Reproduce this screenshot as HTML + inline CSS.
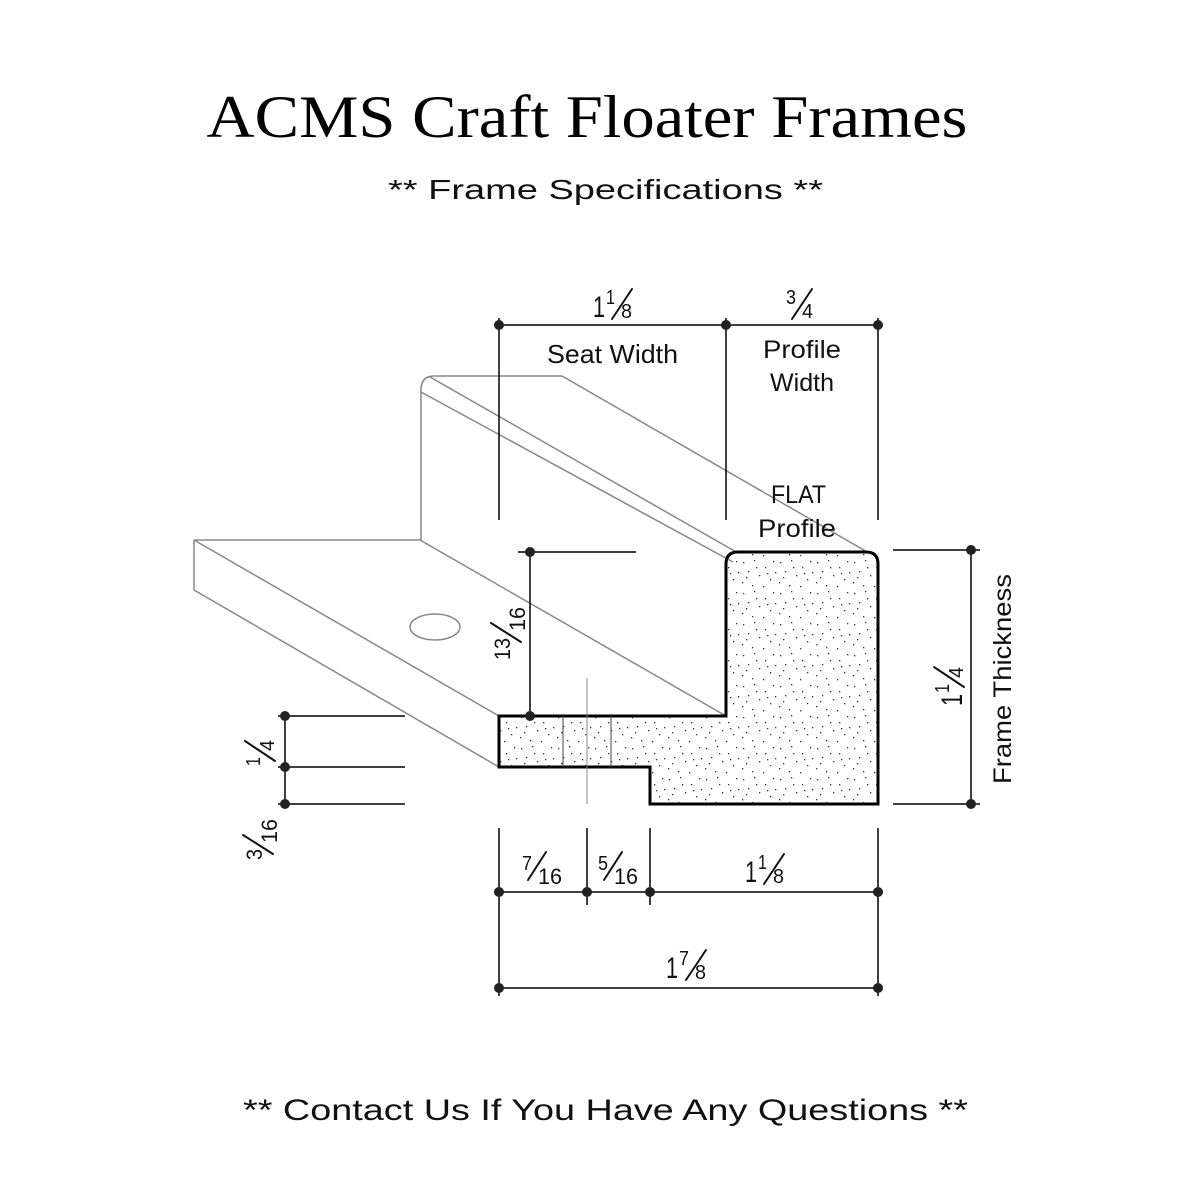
<!DOCTYPE html>
<html><head><meta charset="utf-8"><style>html,body{margin:0;padding:0;background:#fff}svg{display:block}</style></head><body>
<svg width="1195" height="1195" viewBox="0 0 1195 1195" xmlns="http://www.w3.org/2000/svg">
<defs>
<pattern id="st" width="37" height="31" patternUnits="userSpaceOnUse">
<g fill="#333">
<rect x="3" y="4" width="1.3" height="1.3"/><rect x="14" y="2" width="1.3" height="1.3"/><rect x="25" y="9" width="1.3" height="1.3"/><rect x="33" y="3" width="1.3" height="1.3"/>
<rect x="8" y="13" width="1.3" height="1.3"/><rect x="19" y="17" width="1.3" height="1.3"/><rect x="30" y="21" width="1.3" height="1.3"/><rect x="2" y="24" width="1.3" height="1.3"/>
<rect x="12" y="27" width="1.3" height="1.3"/><rect x="23" y="28" width="1.3" height="1.3"/><rect x="35" y="14" width="1.3" height="1.3"/><rect x="16" y="9" width="1.3" height="1.3"/>
<rect x="6" y="19" width="1.3" height="1.3"/><rect x="27" y="15" width="1.3" height="1.3"/>
</g></pattern>
</defs>
<text x="587" y="137" font-family="Liberation Serif, serif" font-size="60" text-anchor="middle" textLength="761" lengthAdjust="spacingAndGlyphs">ACMS Craft Floater Frames</text>
<g font-family="Liberation Sans, DejaVu Sans, sans-serif" fill="#111">
<text x="388" y="199" font-size="28" textLength="435" lengthAdjust="spacingAndGlyphs">** Frame Specifications **</text>
<text x="243" y="1120" font-size="30" textLength="725" lengthAdjust="spacingAndGlyphs">** Contact Us If You Have Any Questions **</text>
</g>

<g fill="none" stroke="#888" stroke-width="1.5">
<path d="M421,540 L421,390 Q421,376 434,376 L562,376 L869,553"/>
<line x1="421" y1="392" x2="733" y2="562"/>
<line x1="430" y1="377" x2="738" y2="553"/>
<path d="M194,540 L420,540 L726,716"/>
<line x1="194" y1="540" x2="499" y2="716"/>
<line x1="194" y1="540" x2="194" y2="590"/>
<line x1="194" y1="590" x2="499" y2="767"/>
<ellipse cx="435" cy="627" rx="25" ry="13"/>
</g>

<path d="M499,716 L726,716 L726,564 Q726,552 738,552 L866,552 Q878,552 878,564 L878,804 L650,804 L650,767 L499,767 Z" fill="url(#st)" stroke="#000" stroke-width="3"/>
<g stroke="#444" stroke-width="1" fill="none">
<line x1="563" y1="716" x2="563" y2="767"/>
<line x1="611" y1="716" x2="611" y2="767"/>
</g>
<line x1="587" y1="678" x2="587" y2="804" stroke="#888" stroke-width="1"/>

<g stroke="#000" stroke-width="1.5" fill="none">
<line x1="499" y1="318" x2="499" y2="520"/>
<line x1="726" y1="318" x2="726" y2="520"/>
<line x1="878" y1="318" x2="878" y2="520"/>
<line x1="499" y1="325" x2="878" y2="325"/>
<line x1="518" y1="552" x2="636" y2="552"/>
<line x1="530" y1="552" x2="530" y2="716"/>
<line x1="893" y1="550" x2="980" y2="550"/>
<line x1="893" y1="804" x2="980" y2="804"/>
<line x1="971" y1="550" x2="971" y2="804"/>
<line x1="278" y1="716" x2="405" y2="716"/>
<line x1="278" y1="767" x2="405" y2="767"/>
<line x1="278" y1="804" x2="405" y2="804"/>
<line x1="285" y1="716" x2="285" y2="804"/>
<line x1="499" y1="828" x2="499" y2="996"/>
<line x1="587" y1="828" x2="587" y2="905"/>
<line x1="650" y1="828" x2="650" y2="905"/>
<line x1="878" y1="828" x2="878" y2="996"/>
<line x1="499" y1="892" x2="878" y2="892"/>
<line x1="499" y1="988" x2="878" y2="988"/>
</g>
<g fill="#222">
<circle cx="499" cy="325" r="5"/><circle cx="726" cy="325" r="5"/><circle cx="878" cy="325" r="5"/>
<circle cx="530" cy="552" r="5"/><circle cx="530" cy="716" r="5"/>
<circle cx="971" cy="550" r="5"/><circle cx="971" cy="804" r="5"/>
<circle cx="285" cy="716" r="5"/><circle cx="285" cy="767" r="5"/><circle cx="285" cy="804" r="5"/>
<circle cx="499" cy="892" r="5"/><circle cx="587" cy="892" r="5"/><circle cx="650" cy="892" r="5"/><circle cx="878" cy="892" r="5"/>
<circle cx="499" cy="988" r="5"/><circle cx="878" cy="988" r="5"/>
</g>

<g font-family="Liberation Sans, DejaVu Sans, sans-serif" fill="#111">
<text x="547" y="363" font-size="26" textLength="131" lengthAdjust="spacingAndGlyphs">Seat Width</text>
<text x="763" y="358" font-size="25" textLength="78" lengthAdjust="spacingAndGlyphs">Profile</text>
<text x="770" y="391" font-size="25" textLength="64" lengthAdjust="spacingAndGlyphs">Width</text>
<text x="771" y="503" font-size="25" textLength="55" lengthAdjust="spacingAndGlyphs">FLAT</text>
<text x="758" y="537" font-size="25" textLength="78" lengthAdjust="spacingAndGlyphs">Profile</text>
<text transform="translate(1011,679) rotate(-90)" font-size="25" text-anchor="middle" textLength="210" lengthAdjust="spacingAndGlyphs">Frame Thickness</text>
</g>

<!-- fractions: local layout -->
<g font-family="Liberation Sans, DejaVu Sans, sans-serif" fill="#111" stroke-linecap="round">
<!-- 1 1/8 top -->
<g transform="translate(593,317)">
<text x="0" y="0" font-size="30" textLength="12" lengthAdjust="spacingAndGlyphs">1</text>
<text x="13" y="-13" font-size="20" textLength="9" lengthAdjust="spacingAndGlyphs">1</text>
<line x1="19" y1="2" x2="39" y2="-28" stroke="#111" stroke-width="2"/>
<text x="28" y="1" font-size="20" textLength="11" lengthAdjust="spacingAndGlyphs">8</text>
</g>
<!-- 3/4 -->
<g transform="translate(786,317)">
<text x="0" y="-13" font-size="20" textLength="10" lengthAdjust="spacingAndGlyphs">3</text>
<line x1="6" y1="2" x2="26" y2="-28" stroke="#111" stroke-width="2"/>
<text x="16" y="1" font-size="20" textLength="11" lengthAdjust="spacingAndGlyphs">4</text>
</g>
<!-- 7/16 -->
<g transform="translate(522,883)">
<text x="0" y="-13" font-size="20" textLength="10" lengthAdjust="spacingAndGlyphs">7</text>
<line x1="6" y1="-3" x2="24" y2="-31" stroke="#111" stroke-width="2"/>
<text x="16" y="1" font-size="22" textLength="24" lengthAdjust="spacingAndGlyphs">16</text>
</g>
<!-- 5/16 -->
<g transform="translate(598,883)">
<text x="0" y="-13" font-size="20" textLength="10" lengthAdjust="spacingAndGlyphs">5</text>
<line x1="6" y1="-3" x2="24" y2="-31" stroke="#111" stroke-width="2"/>
<text x="16" y="1" font-size="22" textLength="24" lengthAdjust="spacingAndGlyphs">16</text>
</g>
<!-- 1 1/8 bottom -->
<g transform="translate(745,882)">
<text x="0" y="0" font-size="30" textLength="12" lengthAdjust="spacingAndGlyphs">1</text>
<text x="13" y="-13" font-size="20" textLength="9" lengthAdjust="spacingAndGlyphs">1</text>
<line x1="19" y1="2" x2="39" y2="-28" stroke="#111" stroke-width="2"/>
<text x="28" y="1" font-size="20" textLength="11" lengthAdjust="spacingAndGlyphs">8</text>
</g>
<!-- 1 7/8 -->
<g transform="translate(666,978)">
<text x="0" y="0" font-size="30" textLength="12" lengthAdjust="spacingAndGlyphs">1</text>
<text x="13" y="-13" font-size="20" textLength="10" lengthAdjust="spacingAndGlyphs">7</text>
<line x1="20" y1="2" x2="40" y2="-28" stroke="#111" stroke-width="2"/>
<text x="29" y="1" font-size="20" textLength="11" lengthAdjust="spacingAndGlyphs">8</text>
</g>
<!-- 13/16 rotated -->
<g transform="translate(524,660) rotate(-90)">
<text x="0" y="-14" font-size="22" textLength="22" lengthAdjust="spacingAndGlyphs">13</text>
<line x1="18" y1="-3" x2="37" y2="-33" stroke="#111" stroke-width="2"/>
<text x="29" y="1" font-size="22" textLength="24" lengthAdjust="spacingAndGlyphs">16</text>
</g>
<!-- 1 1/4 rotated -->
<g transform="translate(962,706) rotate(-90)">
<text x="0" y="0" font-size="30" textLength="12" lengthAdjust="spacingAndGlyphs">1</text>
<text x="13" y="-13" font-size="20" textLength="9" lengthAdjust="spacingAndGlyphs">1</text>
<line x1="19" y1="2" x2="39" y2="-28" stroke="#111" stroke-width="2"/>
<text x="28" y="1" font-size="20" textLength="11" lengthAdjust="spacingAndGlyphs">4</text>
</g>
<!-- 1/4 left -->
<g transform="translate(273,766) rotate(-90)">
<text x="0" y="-13" font-size="20" textLength="9" lengthAdjust="spacingAndGlyphs">1</text>
<line x1="5" y1="2" x2="25" y2="-28" stroke="#111" stroke-width="2"/>
<text x="15" y="1" font-size="20" textLength="11" lengthAdjust="spacingAndGlyphs">4</text>
</g>
<!-- 3/16 left -->
<g transform="translate(276,860) rotate(-90)">
<text x="0" y="-14" font-size="22" textLength="11" lengthAdjust="spacingAndGlyphs">3</text>
<line x1="6" y1="-3" x2="25" y2="-33" stroke="#111" stroke-width="2"/>
<text x="17" y="1" font-size="22" textLength="24" lengthAdjust="spacingAndGlyphs">16</text>
</g>
</g>
</svg>
</body></html>
